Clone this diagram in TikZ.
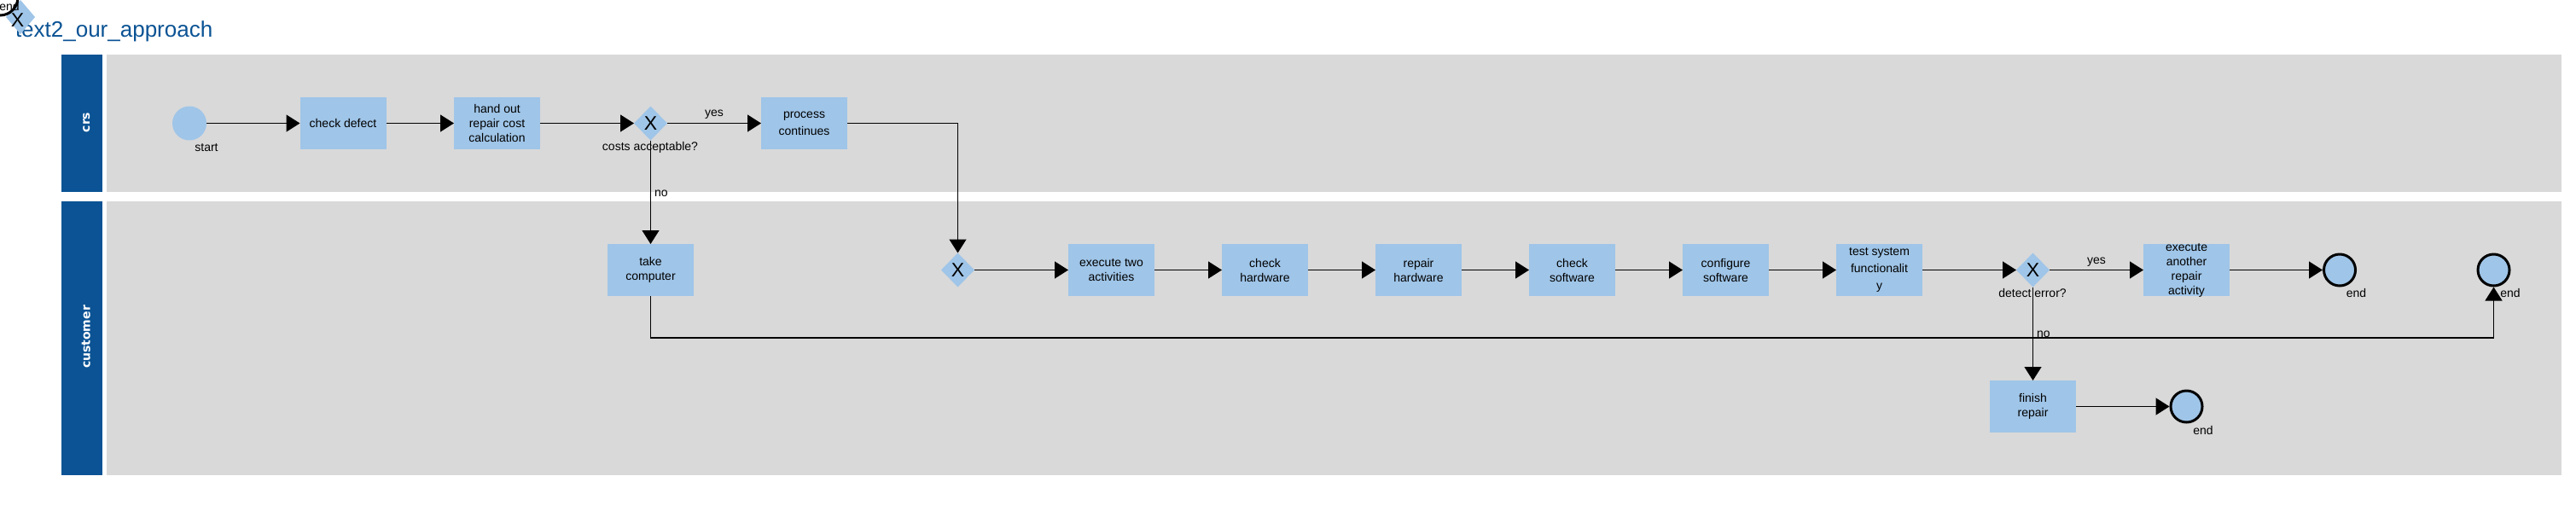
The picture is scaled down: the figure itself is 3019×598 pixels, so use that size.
\documentclass[tikz,border=0pt]{standalone}
\usepackage{fontspec}
\setmainfont{Liberation Sans}
\newfontfamily\lanefont{DejaVu Sans}
\usetikzlibrary{arrows.meta,shapes.geometric}
\definecolor{lblue}{HTML}{9FC5E8}
\definecolor{dblue}{HTML}{0B5394}
\definecolor{lgray}{HTML}{D9D9D9}
\begin{document}
\begin{tikzpicture}[x=1pt,y=-1pt,
  every node/.style={font=\fontsize{14}{17}\selectfont, inner sep=0pt, outer sep=0pt},
  task/.style={fill=lblue, minimum width=101pt, minimum height=61pt, align=center},
  gate/.style={diamond, fill=lblue, minimum width=39pt, minimum height=40pt, font=\fontsize{23}{23}\selectfont},
  startev/.style={circle, fill=lblue, minimum size=40pt},
  endev/.style={circle, fill=lblue, draw=black, line width=3pt, minimum size=37pt, outer sep=1.5pt},
  lbl/.style={anchor=base},
  flow/.style={draw=black, line width=1.3pt, -{Triangle[length=16pt,width=20pt]}},
  lanehead/.style={fill=dblue},
  lanebody/.style={fill=lgray},
  lanetitle/.style={text=white, rotate=90, anchor=base, font=\lanefont\bfseries\fontsize{14}{14}\selectfont}
]
\fill[white] (0,0) rectangle (3019,598);
\useasboundingbox (0,0) rectangle (3019,598);
% lanes
\fill[lanehead] (72,64) rectangle (120,225);
\fill[lanebody] (125,64) rectangle (3002,225);
\fill[lanehead] (72,236) rectangle (120,557);
\fill[lanebody] (125,236) rectangle (3002,557);
\node[lanetitle] (crst) at (105,143.5) {crs};
\node[lanetitle] (custt) at (105.5,395) {customer};
% title
\node[anchor=base west, text=dblue, font=\fontsize{26}{26}\selectfont] (title) at (18,43.3) {text2\_our\_approach};
% stray elements at the corner
\node[diamond, fill=lblue, minimum width=34pt, minimum height=40pt] (ghostg) at (24,20) {};
\node[circle, fill=white, draw=black, line width=3pt, minimum size=42pt] (ghoste) at (0,-3) {};
\node[lbl] (ghostl) at (11,12.7) {end};
\node[font=\fontsize{23}{23}\selectfont] (ghostx) at (20.5,23.5) {X};
% crs lane
\node[startev] (start) at (222,144.5) {};
\node[lbl] (startl) at (242,177) {start};
\node[task] (chk) at (402,144.5) {check defect};
\node[task] (hand) at (582.5,144.5) {hand out\\repair cost\\calculation};
\node[gate] (g1) at (762.5,144.5) {X};
\node[lbl] (g1l) at (762,176) {costs acceptable?};
\node[task, font=\fontsize{14}{20}\selectfont] (proc) at (942.5,144.5) {process\\continues};
% customer lane
\node[task] (take) at (762.5,316.5) {take\\computer};
\node[gate] (g2) at (1122.5,316.5) {X};
\node[task] (ex2) at (1302.5,316.5) {execute two\\activities};
\node[task] (chw) at (1482.5,316.5) {check\\hardware};
\node[task] (rhw) at (1662.5,316.5) {repair\\hardware};
\node[task] (csw) at (1842.5,316.5) {check\\software};
\node[task] (cfg) at (2022.5,316.5) {configure\\software};
\node[task, font=\fontsize{14}{20}\selectfont] (test) at (2202.5,316.5) {test system\\functionalit\\y};
\node[gate] (g3) at (2382.5,316.5) {X};
\node[lbl] (g3l) at (2382,348) {detect error?};
\node[task, label={[align=center, font=\fontsize{14}{17}\selectfont]center:{execute\\another\\repair\\activity}}] (exa) at (2562.5,316.5) {};
\node[endev] (e1) at (2742,316.5) {};
\node[lbl] (e1l) at (2761.5,348.5) {end};
\node[endev] (e2) at (2922.5,316.5) {};
\node[lbl] (e2l) at (2942,348.5) {end};
\node[task] (fin) at (2382.5,476.5) {finish\\repair};
\node[endev] (e3) at (2562.5,476.5) {};
\node[lbl] (e3l) at (2582,509) {end};
\coordinate (bus) at (1500,396);
% flows
\draw[flow] (start) -- (chk);
\draw[flow] (chk) -- (hand);
\draw[flow] (hand) -- (g1);
\draw[flow] (g1) -- node[pos=0.5, anchor=base, yshift=8pt] (yes1) {yes} (proc);
\draw[flow] (g1) -- node[pos=0.54, anchor=base west, xshift=4.5pt] (no1) {no} (take);
\draw[flow] (proc) -| (g2);
\draw[flow] (g2) -- (ex2);
\draw[flow] (ex2) -- (chw);
\draw[flow] (chw) -- (rhw);
\draw[flow] (rhw) -- (csw);
\draw[flow] (csw) -- (cfg);
\draw[flow] (cfg) -- (test);
\draw[flow] (test) -- (g3);
\draw[flow] (g3) -- node[pos=0.5, anchor=base, yshift=7.5pt] (yes2) {yes} (exa);
\draw[flow] (exa) -- (e1);
\draw[flow] (g3) -- node[pos=0.54, anchor=base west, xshift=4.5pt] (no2) {no} (fin);
\draw[flow] (fin) -- (e3);
\draw[flow] (take) |- (bus) -| (e2);
\end{tikzpicture}
\end{document}
